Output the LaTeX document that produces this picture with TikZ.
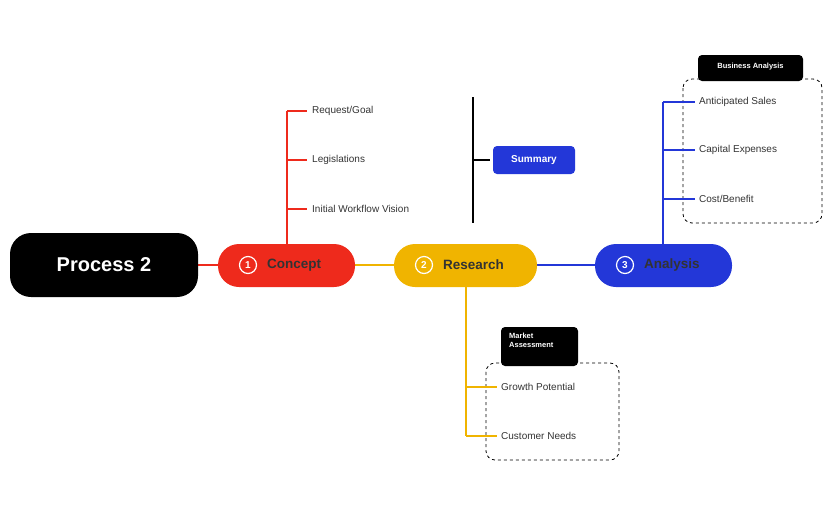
\documentclass[tikz,border=0pt]{standalone}
\usepackage{fontspec}
\setmainfont{Liberation Sans}
\definecolor{cred}{HTML}{EE2A1C}
\definecolor{cyel}{HTML}{F0B400}
\definecolor{cblu}{HTML}{2337D8}
\definecolor{ctxt}{HTML}{333333}
\begin{document}
\begin{tikzpicture}[x=1pt,y=-1pt,
  pill/.style={rounded corners=21pt,inner sep=0pt},
  leaf/.style={anchor=west,font=\fontsize{10}{12}\selectfont,text=ctxt,inner sep=0pt},
  tab/.style={fill=black,rounded corners=4pt,text=white,font=\bfseries\fontsize{7}{8}\selectfont,align=left,inner sep=0pt},
  dbox/.style={draw,thick,dashed,rounded corners=9pt},
  br/.style={line width=1.5pt}]
\useasboundingbox (0,0) rectangle (832,515);
% connectors between main nodes
\draw[br,cred] (198,265) -- (218,265);
\draw[br,cyel] (355,265) -- (394,265);
\draw[br,cblu] (537,265) -- (595,265);
% main nodes
\fill[pill,black] (10,233) rectangle (198,297);
\node (p2) at (104,265) {\textcolor{white}{\bfseries\fontsize{20}{24}\selectfont Process 2}};
\fill[pill,cred] (218,244) rectangle (355,287);
\fill[pill,cyel] (394,244) rectangle (537,287);
\fill[pill,cblu] (595,244) rectangle (732,287);
\foreach \cx/\t/\n/\lx in {248/1/Concept/267, 424/2/Research/443, 625/3/Analysis/644}{
  \draw[white,line width=1.2pt] (\cx,265) circle (8.5);
  \node[white,font=\bfseries\fontsize{10}{12}\selectfont] at (\cx,265) {\t};
  \node[anchor=west,inner sep=0pt,text=ctxt,font=\bfseries\fontsize{13.5}{16}\selectfont] at (\lx,265) {\n};
}
% concept branch
\draw[br,cred] (287,244) -- (287,111);
\foreach \y/\s in {111/Request\slash Goal,160/Legislations,209/Initial Workflow Vision}{
  \draw[br,cred] (287,\y) -- (307,\y);
  \node[leaf] at (312,\y) {\s};
}
\draw[br,black] (473,97) -- (473,223);
\draw[br,black] (473,160) -- (490,160);
\fill[cblu,rounded corners=4pt] (493,146) rectangle (575,174);
\node[white,font=\bfseries\fontsize{10}{12}\selectfont] (sum) at (534,160) {Summary};
% research branch
\draw[br,cyel] (466,287) -- (466,436);
\draw[dbox] (486,363) rectangle (619,460);
\fill[black,rounded corners=4pt] (501,327) rectangle (578,366);
\node[anchor=north west,white,font=\bfseries\fontsize{7.5}{9}\selectfont,align=left,inner sep=0pt] at (509,333) {Market\\Assessment};
\foreach \y/\s in {387/Growth Potential,436/Customer Needs}{
  \draw[br,cyel] (466,\y) -- (497,\y);
  \node[leaf] at (501,\y) {\s};
}
% analysis branch
\draw[br,cblu] (663,244) -- (663,102);
\draw[dbox] (683,79) rectangle (822,223);
\fill[black,rounded corners=4pt] (698,55) rectangle (803,81);
\node[white,font=\bfseries\fontsize{7.5}{9}\selectfont] at (750.5,67) {Business Analysis};
\foreach \y/\s in {102/Anticipated Sales,150/Capital Expenses,199/Cost\slash Benefit}{
  \draw[br,cblu] (663,\y) -- (695,\y);
  \node[leaf] at (699,\y) {\s};
}
\end{tikzpicture}
\end{document}
